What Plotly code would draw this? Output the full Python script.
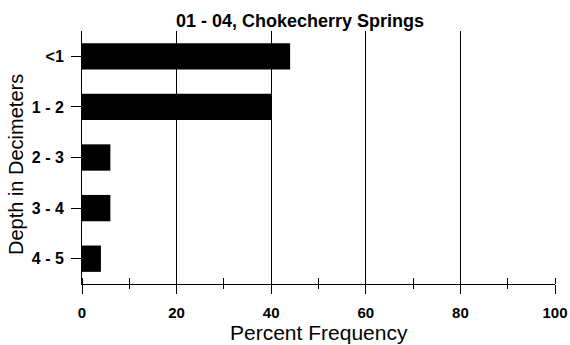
import plotly.graph_objects as go

categories = ["<1", "1 - 2", "2 - 3", "3 - 4", "4 - 5"]
values = [44, 40, 6, 6, 4]
x_ticks = [0, 20, 40, 60, 80, 100]
title_text = "01 - 04, Chokecherry Springs"
x_title = "Percent Frequency"
y_title = "Depth in Decimeters"

FONT = "Liberation Sans, Arial, sans-serif"
W, H = 570, 345
PL, PR, PT, PB = 82, 555, 31, 284  # plot area in px

fig = go.Figure()
fig.add_trace(go.Bar(
    x=values, y=categories, orientation="h",
    marker=dict(color="black", line=dict(width=0)),
    width=0.52,
))
# invisible trace on overlay axis for inside (crossing) minor ticks
fig.add_trace(go.Scatter(x=[0, 100], y=[categories[0], categories[0]], xaxis="x2",
                         mode="markers", marker=dict(opacity=0), showlegend=False,
                         hoverinfo="skip"))

fig.update_layout(
    width=W, height=H,
    margin=dict(l=PL, r=W - PR, t=PT, b=H - PB, autoexpand=False),
    paper_bgcolor="white", plot_bgcolor="white",
    showlegend=False,
    font=dict(family=FONT, color="black"),
    title=dict(text="<b>" + title_text + "</b>", x=300 / W, xanchor="center",
               xref="container",
               y=1 - 21 / H, yanchor="middle", font=dict(size=18, family=FONT)),
    xaxis=dict(
        range=[0, 100], tickvals=x_ticks, ticktext=["<b>%d</b>" % v for v in x_ticks],
        showgrid=True, gridcolor="black", gridwidth=1,
        zeroline=False, showline=True, linecolor="black", linewidth=1,
        ticks="outside", ticklen=9, tickcolor="black",
        minor=dict(dtick=10, ticks="outside", ticklen=4, tickcolor="black", showgrid=False),
        tickfont=dict(size=15, family=FONT), ticklabelstandoff=6,
        automargin=False, fixedrange=True,
    ),
    xaxis2=dict(
        range=[0, 100], overlaying="x", side="bottom", anchor="y",
        tickvals=x_ticks, showticklabels=False, showgrid=False, zeroline=False,
        ticks="", showline=False,
        minor=dict(dtick=10, ticks="inside", ticklen=6, tickcolor="black", showgrid=False),
        automargin=False,
    ),
    yaxis=dict(
        categoryorder="array", categoryarray=categories,
        autorange=False, range=[4.5, -0.5],
        showgrid=False, zeroline=False, showline=True, linecolor="black", linewidth=1,
        ticks="outside", ticklen=10, tickcolor="black",
        tickvals=categories, ticktext=["<b>" + c + "</b>" for c in categories],
        tickfont=dict(size=16, family=FONT), ticklabelstandoff=4,
        automargin=False,
    ),
    annotations=[
        dict(text=x_title, xref="paper", yref="paper", x=0.5, xanchor="center",
             y=-(332 - PB) / (PB - PT), yanchor="middle", showarrow=False,
             font=dict(size=21, family=FONT)),
        dict(text=y_title, xref="paper", yref="paper", textangle=-90,
             x=-(PL - 16) / (PR - PL), xanchor="center",
             y=(PB - 165) / (PB - PT), yanchor="middle", showarrow=False,
             font=dict(size=20, family=FONT)),
    ],
)

fig.write_html(
    "out.html",
    config={"displayModeBar": False, "staticPlot": True},
    post_script="document.body.style.margin='0';document.body.style.overflow='hidden';",
)
